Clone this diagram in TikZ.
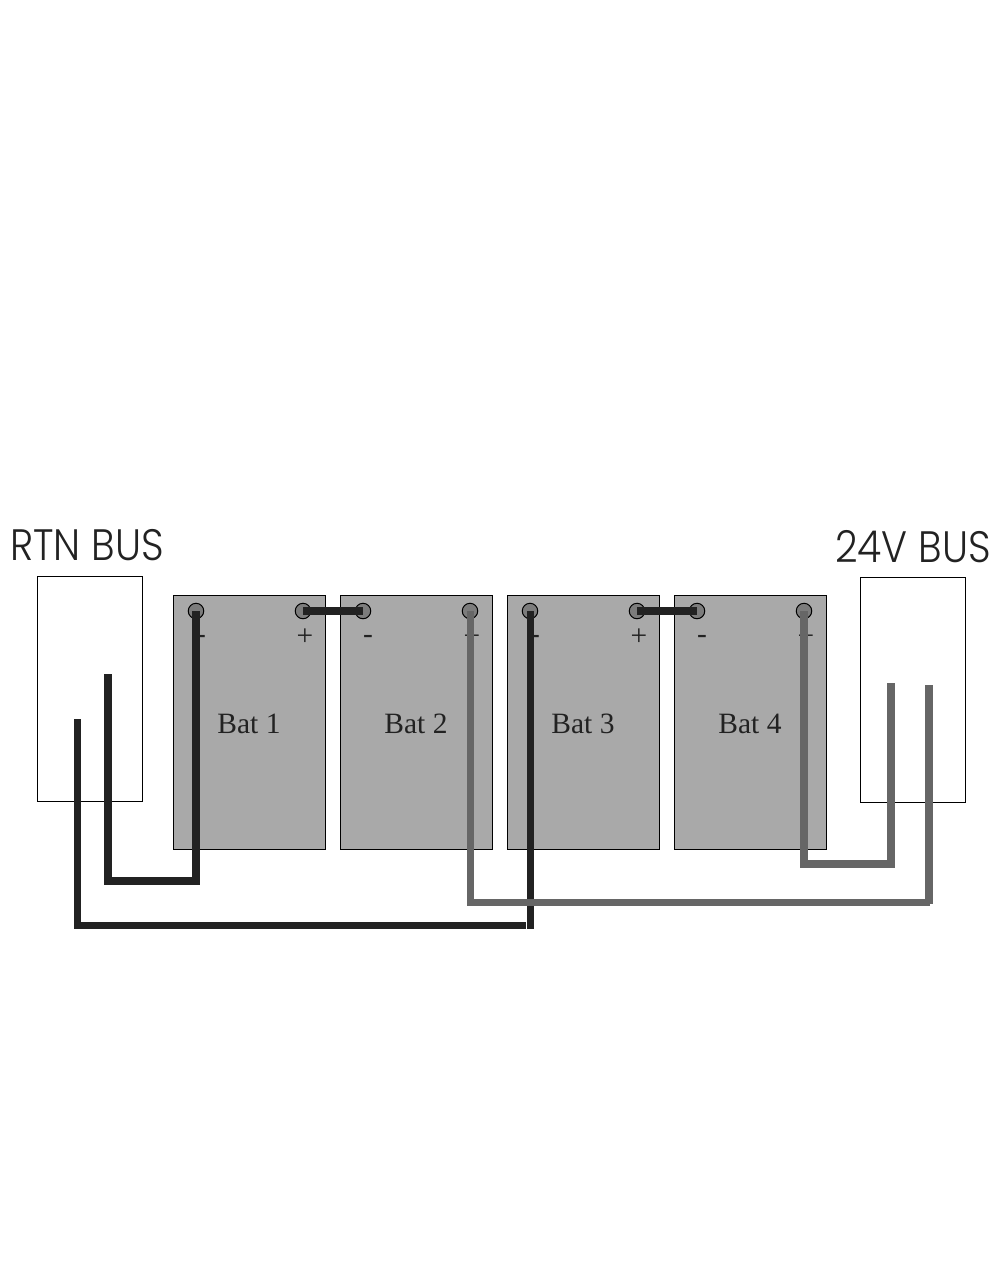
\documentclass[tikz,border=0pt]{standalone}
\usepackage{fontspec}
\setmainfont{Liberation Serif}
\newfontfamily\busfont[FakeStretch=0.895]{Poppins Light}
\usetikzlibrary{positioning}
\definecolor{wireblack}{HTML}{222222}
\definecolor{wiregrey}{HTML}{666666}
\definecolor{batfill}{HTML}{A9A9A9}
\definecolor{postfill}{HTML}{7C7C7C}
\tikzset{
    %Define style for boxes
    bat/.style={
           rectangle,
           draw=black, line width=1pt,
           minimum width=152pt,
           minimum height=254pt,
           inner sep=0pt,
           outer sep=0pt,
           text height=22.5pt,
           text depth=0pt,
           text=wireblack,
           font=\fontsize{29.5}{32}\selectfont,
           fill=batfill},
    bus/.style={
           rectangle,
           draw=black, line width=1pt,
           minimum width=105pt,
           minimum height=225pt,
           inner sep=0pt},
    post/.style={
           circle,
           draw=black, line width=1pt,
           minimum size=15.5pt,
           inner sep=0pt,
           outer sep=0pt,
           fill=postfill},
    sign/.style={
           inner sep=0pt,
           text=wireblack,
           font=\fontsize{29.5}{32}\selectfont},
    buslabel/.style={
           inner sep=0pt,
           text=wireblack,
           font=\busfont\fontsize{44}{48}\selectfont},
    % Define wire styles
    blackwire/.style={draw=wireblack, line width=8pt},
    greywire/.style={draw=wiregrey, line width=8pt},
    longwire/.style={line width=7pt}
}
\begin{document}
\begin{tikzpicture}[x=1pt,y=-1pt,node distance=15pt]
\useasboundingbox (0,0) rectangle (1008,1272);

\node[bus] (rtn) at (90,688.5) {};
\node[bus] (pos) at (912.5,689.5) {};
\node[buslabel] (rtnlabel) at (87,545) {RTN BUS};
\node[buslabel] (poslabel) at (913,547) {24V BUS};

\node[bat] (bat1) at (249,722) {Bat 1};
\node[bat, right=of bat1] (bat2) {Bat 2};
\node[bat, right=of bat2] (bat3) {Bat 3};
\node[bat, right=of bat3] (bat4) {Bat 4};

\node[post] (post1) at (196,611) {};
\node[post, right=91.5pt of post1] (post2) {};
\node[post, right=44.5pt of post2] (post3) {};
\node[post, right=91.5pt of post3] (post4) {};
\node[post, right=44.5pt of post4] (post5) {};
\node[post, right=91.5pt of post5] (post6) {};
\node[post, right=44.5pt of post6] (post7) {};
\node[post, right=91.5pt of post7] (post8) {};

\node[sign] (s1) at (201,639) {-};
\node[sign] (s2) at (305,637) {+};
\node[sign] (s3) at (368,639) {-};
\node[sign] (s4) at (472,637) {+};
\node[sign] (s5) at (535,639) {-};
\node[sign] (s6) at (639,637) {+};
\node[sign] (s7) at (702,639) {-};
\node[sign] (s8) at (806,637) {+};

% free ends of the wires inside the buses
\coordinate (rtnin1) at (108,674);
\coordinate (rtnin2) at (77,719);
\coordinate (posin1) at (891,683);
\coordinate (posin2) at (929,685);
\coordinate (end2) at (525.5,925.5);
\coordinate (end4) at (930,902.5);
\coordinate (end5) at (929,904);
\coordinate (end3) at ([yshift=-318pt]post5.center);

\path[blackwire]
    (post2.center) -- (post3.center)
    (post6.center) -- (post7.center)
    (rtnin1) -- ++(0,207) -| (post1.center);
\path[blackwire, longwire]
    (rtnin2) |- (end2)
    (post5.center) -- (end3);

\path[greywire, longwire]
    (post4.center) |- (end4);
\path[greywire]
    (posin2) -- (end5)
    (post8.center) -- ++(0,253) -| (posin1);

\end{tikzpicture}
\end{document}
